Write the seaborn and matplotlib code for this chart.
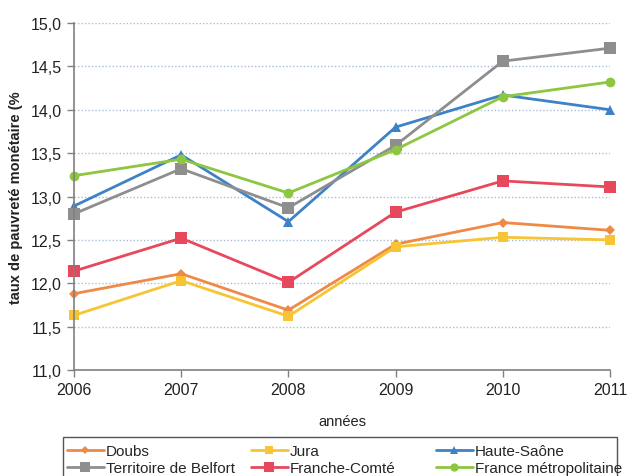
import matplotlib
matplotlib.use("Agg")
import matplotlib.pyplot as plt
import seaborn as sns
import pandas as pd
from matplotlib.ticker import FuncFormatter, MultipleLocator
from matplotlib.patches import Rectangle

years = [2006, 2007, 2008, 2009, 2010, 2011]
doubs = [11.88, 12.11, 11.69, 12.45, 12.70, 12.61]
jura = [11.63, 12.03, 11.62, 12.42, 12.53, 12.50]
haute_saone = [12.89, 13.48, 12.71, 13.80, 14.17, 14.00]
belfort = [12.80, 13.32, 12.87, 13.59, 14.56, 14.71]
franche_comte = [12.14, 12.52, 12.01, 12.82, 13.18, 13.11]
france = [13.24, 13.43, 13.04, 13.54, 14.15, 14.32]

series_names = ["Doubs", "Jura", "Haute-Saône", "Territoire de Belfort",
                "Franche-Comté", "France métropolitaine"]
series_values = [doubs, jura, haute_saone, belfort, franche_comte, france]

sns.set_theme(style="white")
plt.rcParams['font.family'] = ['Liberation Sans', 'DejaVu Sans']

styles = {
    "Doubs": dict(color="#EE8A45", marker="D", ms=5),
    "Jura": dict(color="#F7C433", marker="s", ms=6.5),
    "Haute-Saône": dict(color="#3E82C6", marker="^", ms=7.5),
    "Territoire de Belfort": dict(color="#8E8E8E", marker="s", ms=8),
    "Franche-Comté": dict(color="#E8485C", marker="s", ms=8),
    "France métropolitaine": dict(color="#8DC641", marker="o", ms=7),
}

rows = []
for name, vals in zip(series_names, series_values):
    for y, v in zip(years, vals):
        rows.append({"année": y, "taux": v, "série": name})
df = pd.DataFrame(rows)

fig = plt.figure(figsize=(6.28, 4.77), dpi=100)
ax = fig.add_axes([74/628, 1-371/477, (610-74)/628, (371-24)/477])

handles = {}
for name in series_names:
    st = styles[name]
    sub = df[df["série"] == name]
    sns.lineplot(data=sub, x="année", y="taux", ax=ax, color=st["color"],
                 marker=st["marker"], markersize=st["ms"], markeredgewidth=0,
                 linewidth=2.0, label=name, clip_on=False, legend=False)
    handles[name] = ax.lines[-1]

ax.set_xlim(2006, 2011)
ax.set_ylim(11.0, 15.0)
ax.set_xticks(years)
ax.yaxis.set_major_locator(MultipleLocator(0.5))
ax.yaxis.set_major_formatter(FuncFormatter(lambda v, p: f"{v:.1f}".replace(".", ",")))
ax.grid(axis="y", linestyle=(0, (1, 1.5)), color="#A9BCD6", linewidth=1.0)
ax.grid(axis="x", visible=False)
ax.yaxis.get_gridlines()[-1].set_visible(False)
ax.yaxis.get_gridlines()[0].set_visible(False)

for s in ["top", "right"]:
    ax.spines[s].set_visible(False)
for s in ["left", "bottom"]:
    ax.spines[s].set_color("#808080")
    ax.spines[s].set_linewidth(1.2)
ax.tick_params(axis="both", which="major", length=5, width=1, color="#808080",
               labelsize=11.5, labelcolor="#222222", bottom=True, left=True,
               direction="out", pad=4)
ax.tick_params(axis="x", pad=4)

ax.set_xlabel("années", fontsize=10.5, color="#222222", labelpad=12)
ax.set_ylabel("taux de pauvreté monétaire (%", fontsize=10.5, color="#222222",
              fontweight="bold", labelpad=5)

columns = [["Doubs", "Territoire de Belfort"],
           ["Jura", "Franche-Comté"],
           ["Haute-Saône", "France métropolitaine"]]
col_x = [67, 251, 436]
for names, x in zip(columns, col_x):
    leg = fig.legend([handles[n] for n in names], names, ncol=1,
                     loc="upper left", bbox_to_anchor=(x/628, 1-445/477),
                     fontsize=11, frameon=False, handlelength=2.4,
                     handletextpad=0.15, borderpad=0, borderaxespad=0,
                     labelspacing=0.2, markerscale=0.85)

fig.patches.append(Rectangle((63/628, -0.02), (617-63)/628, (477-438)/477 + 0.02,
                             transform=fig.transFigure, fill=False,
                             edgecolor="#555555", linewidth=1.0, zorder=5))

fig.savefig("out.png", dpi=100)
